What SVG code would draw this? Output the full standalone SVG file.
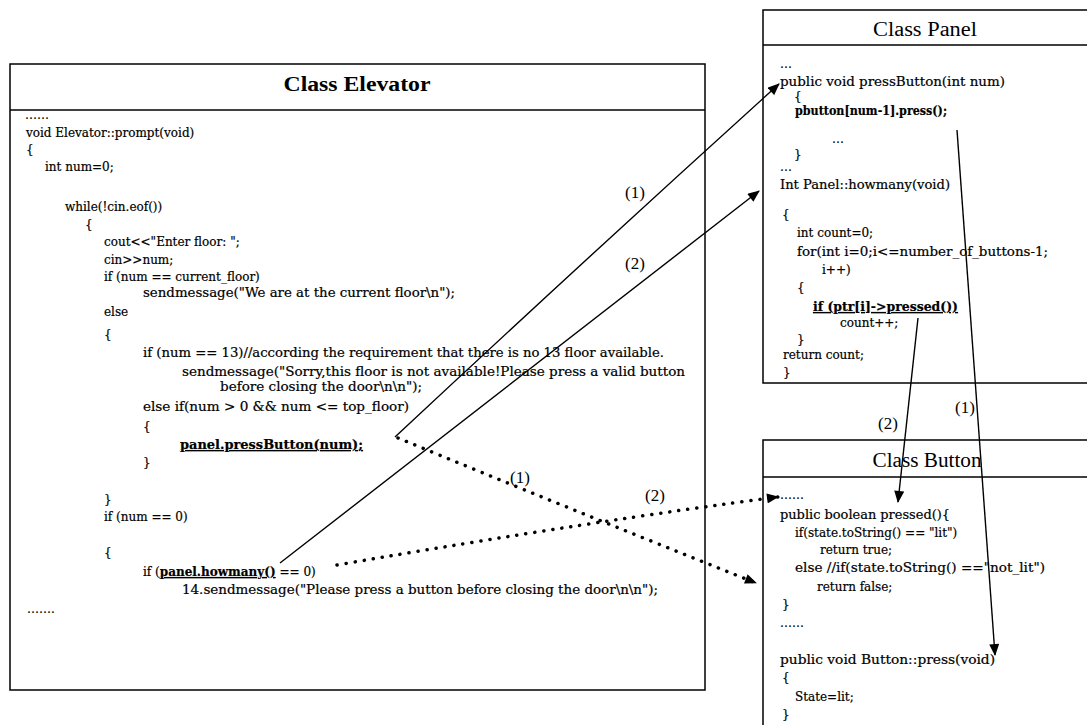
<svg xmlns="http://www.w3.org/2000/svg" width="1087" height="725" viewBox="0 0 1087 725">
<style>
.box{fill:#fff;stroke:#000;stroke-width:1.5}
.div{stroke:#000;stroke-width:1.5}
.code{font-family:"DejaVu Serif","Liberation Serif",serif;font-size:12px;fill:#000;stroke:#000;stroke-width:0.2}
.b{font-weight:bold}
.u{text-decoration:underline}
.title{font-family:"Liberation Serif",serif;font-size:20px;fill:#000;text-anchor:middle}
.lbl{font-family:"Liberation Serif",serif;font-size:17px;fill:#000;text-anchor:middle}
.solid{fill:none;stroke:#000;stroke-width:1.4}
.dot{fill:none;stroke:#000;stroke-width:3.5;stroke-linecap:round;stroke-dasharray:0.1 9}
</style>
<defs>
<marker id="ah" viewBox="0 0 12 10" refX="11" refY="5" markerWidth="13" markerHeight="10" markerUnits="userSpaceOnUse" orient="auto">
<path d="M0,0 L12,5 L0,10 Z" fill="#000"/>
</marker>
</defs>
<rect width="1087" height="725" fill="#fff"/>

<g id="elevator">
<rect class="box" x="10" y="64" width="695" height="626"/>
<line class="div" x1="10" y1="110" x2="705" y2="110"/>
<text class="title" x="357" y="91" font-weight="bold" textLength="147" lengthAdjust="spacingAndGlyphs">Class Elevator</text>
<g class="code">
<text x="25" y="119">……</text>
<text x="26" y="137">void Elevator::prompt(void)</text>
<text x="26" y="154">{</text>
<text x="45" y="171">int num=0;</text>
<text x="65" y="211">while(!cin.eof())</text>
<text x="85" y="229">{</text>
<text x="104" y="246">cout&lt;&lt;"Enter floor: ";</text>
<text x="104" y="264">cin&gt;&gt;num;</text>
<text x="104" y="281">if (num == current_floor)</text>
<text x="143" y="297" textLength="312" lengthAdjust="spacingAndGlyphs">sendmessage("We are at the current floor\n");</text>
<text x="104" y="316">else</text>
<text x="104" y="339">{</text>
<text x="143" y="357" textLength="521" lengthAdjust="spacingAndGlyphs">if (num == 13)//according the requirement that there is no 13 floor available.</text>
<text x="182" y="376" textLength="503" lengthAdjust="spacingAndGlyphs">sendmessage("Sorry,this floor is not available!Please press a valid button</text>
<text x="220" y="391" textLength="202" lengthAdjust="spacingAndGlyphs">before closing the door\n\n");</text>
<text x="143" y="411" textLength="266" lengthAdjust="spacingAndGlyphs">else if(num &gt; 0 &amp;&amp; num &lt;= top_floor)</text>
<text x="143" y="431">{</text>
<text x="180" y="449" class="b u" textLength="183" lengthAdjust="spacingAndGlyphs">panel.pressButton(num);</text>
<text x="143" y="467">}</text>
<text x="104" y="504">}</text>
<text x="104" y="521">if (num == 0)</text>
<text x="104" y="557">{</text>
<text x="143" y="576">if (<tspan class="b u">panel.howmany()</tspan> == 0)</text>
<text x="182" y="594" textLength="476" lengthAdjust="spacingAndGlyphs">14.sendmessage("Please press a button before closing the door\n\n");</text>
<text x="27" y="613">…….</text>
</g>
</g>

<g id="panel">
<rect class="box" x="763" y="10" width="340" height="373"/>
<line class="div" x1="763" y1="45" x2="1087" y2="45"/>
<text class="title" x="925" y="36" textLength="104" lengthAdjust="spacingAndGlyphs">Class Panel</text>
<g class="code">
<text x="780" y="68">…</text>
<text x="780" y="86" textLength="225" lengthAdjust="spacingAndGlyphs">public void pressButton(int num)</text>
<text x="794" y="101">{</text>
<text x="795" y="115" class="b" textLength="152" lengthAdjust="spacingAndGlyphs">pbutton[num-1].press();</text>
<text x="832" y="143">…</text>
<text x="794" y="159">}</text>
<text x="780" y="171">…</text>
<text x="780" y="189" textLength="170" lengthAdjust="spacingAndGlyphs">Int Panel::howmany(void)</text>
<text x="782" y="219">{</text>
<text x="797" y="237">int count=0;</text>
<text x="797" y="256" textLength="251" lengthAdjust="spacingAndGlyphs">for(int i=0;i&lt;=number_of_buttons-1;</text>
<text x="822" y="274">i++)</text>
<text x="797" y="292">{</text>
<text x="813" y="311" class="b u" textLength="145" lengthAdjust="spacingAndGlyphs">if (ptr[i]-&gt;pressed())</text>
<text x="840" y="327">count++;</text>
<text x="797" y="344">}</text>
<text x="783" y="359">return count;</text>
<text x="783" y="377">}</text>
</g>
</g>

<g id="button">
<rect class="box" x="763" y="440" width="340" height="300"/>
<line class="div" x1="763" y1="477" x2="1087" y2="477"/>
<text class="title" x="927" y="467" textLength="109" lengthAdjust="spacingAndGlyphs">Class Button</text>
<g class="code">
<text x="780" y="499">……</text>
<text x="780" y="519" textLength="170" lengthAdjust="spacingAndGlyphs">public boolean pressed(){</text>
<text x="795" y="537">if(state.toString() == "lit")</text>
<text x="820" y="554">return true;</text>
<text x="795" y="572" textLength="250" lengthAdjust="spacingAndGlyphs">else //if(state.toString() =="not_lit")</text>
<text x="817" y="591">return false;</text>
<text x="782" y="609">}</text>
<text x="780" y="627">……</text>
<text x="780" y="664" textLength="215" lengthAdjust="spacingAndGlyphs">public void Button::press(void)</text>
<text x="782" y="682">{</text>
<text x="795" y="701">State=lit;</text>
<text x="782" y="719">}</text>
</g>
</g>

<g id="connectors">
<path class="solid" d="M395,437 Q590,255 779,84" marker-end="url(#ah)"/>
<path class="solid" d="M280,563 L759,191" marker-end="url(#ah)"/>
<path class="dot" d="M398,438 Q560,505 756,583" marker-end="url(#ah)"/>
<path class="dot" d="M337,565 Q600,520 778,497" marker-end="url(#ah)"/>
<path class="solid" d="M918,318 L898,502" marker-end="url(#ah)"/>
<path class="solid" d="M957,130 L995,655" marker-end="url(#ah)"/>
<text class="lbl" x="635" y="198">(1)</text>
<text class="lbl" x="635" y="269">(2)</text>
<text class="lbl" x="520" y="483">(1)</text>
<text class="lbl" x="655" y="501">(2)</text>
<text class="lbl" x="965" y="413">(1)</text>
<text class="lbl" x="888" y="429">(2)</text>
</g>
</svg>
